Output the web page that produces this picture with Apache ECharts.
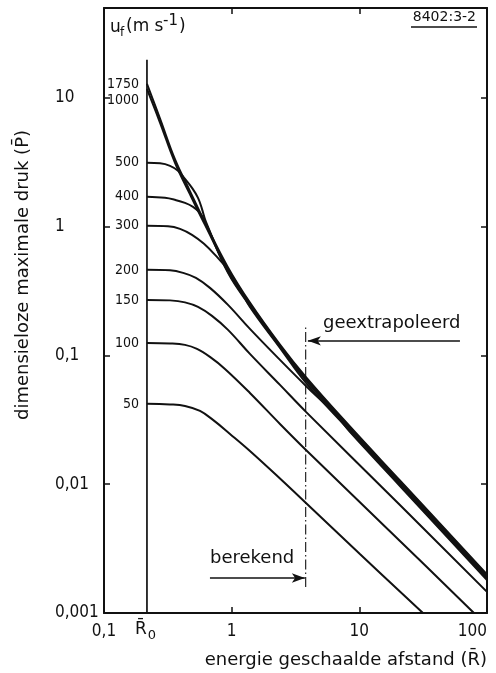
<!DOCTYPE html>
<html>
<head>
<meta charset="utf-8">
<script src="https://cdn.jsdelivr.net/npm/echarts@6/dist/echarts.min.js"></script>
<style>
  html, body { margin: 0; padding: 0; background: #fff; }
  #chart { width: 496px; height: 673px; }
</style>
</head>
<body>
<div id="chart"></div>
<script>
// Dimensionless peak overpressure versus energy-scaled distance,
// one curve per flame speed u_f (m/s).
const xTicks = [0.1, 1, 10, 100];
const yTicks = [0.001, 0.01, 0.1, 1, 10];
const R0 = 0.217;                 // scaled charge radius
const extrapolationStart = 3.8;   // computed up to here, extrapolated beyond

const speeds = ['1750', '1000', '500', '400', '300', '200', '150', '100', '50'];

const u1750R = [0.217, 0.275, 0.360, 0.472, 0.618, 0.936, 1.39, 2.39, 3.82, 8.44, 20.8, 100];
const u1750P = [12.9, 6.89, 3.33, 1.884, 1.080, 0.4835, 0.2576, 0.1215, 0.0679, 0.0281, 0.0107, 0.00199];

const u1000R = [0.217, 0.275, 0.360, 0.472, 0.618, 0.936, 1.39, 2.39, 3.82, 8.44, 20.8, 100];
const u1000P = [11.79, 6.42, 3.14, 1.785, 1.035, 0.4625, 0.2518, 0.1188, 0.0664, 0.0276, 0.01051, 0.00196];

const u500R = [0.217, 0.275, 0.329, 0.380, 0.431, 0.489, 0.545, 0.585, 0.629, 0.936, 1.39, 2.39, 3.82, 8.44, 20.8, 100];
const u500P = [3.14, 3.11, 2.973, 2.72, 2.356, 2.006, 1.677, 1.377, 1.092, 0.4464, 0.2472, 0.1177, 0.0652, 0.0271, 0.01033, 0.00192];

const u400R = [0.217, 0.300, 0.360, 0.431, 0.498, 0.554, 0.596, 0.641, 0.936, 1.39, 2.39, 3.82, 8.44, 20.8, 100];
const u400P = [1.707, 1.677, 1.618, 1.533, 1.428, 1.305, 1.173, 1.016, 0.4385, 0.2428, 0.1166, 0.0641, 0.0266, 0.01014, 0.00189];

const u300R = [0.217, 0.317, 0.394, 0.489, 0.607, 0.754, 0.936, 1.161, 1.39, 2.39, 3.82, 8.44, 20.8, 100];
const u300P = [1.016, 1.007, 0.963, 0.865, 0.737, 0.594, 0.4625, 0.3292, 0.2385, 0.1146, 0.0612, 0.0259, 0.00988, 0.00184];

const u200R = [0.217, 0.329, 0.416, 0.525, 0.676, 0.936, 1.39, 2.39, 3.82, 6.44, 8.44, 20.8, 100];
const u200P = [0.4625, 0.4584, 0.4385, 0.4009, 0.3352, 0.2472, 0.1609, 0.0924, 0.0580, 0.0352, 0.0255, 0.0097, 0.0018];

const u150R = [0.217, 0.329, 0.431, 0.545, 0.701, 0.936, 1.39, 2.39, 3.82, 20.8, 100];
const u150P = [0.2704, 0.2680, 0.2586, 0.2385, 0.2031, 0.1581, 0.1029, 0.0591, 0.0365, 0.0069, 0.00146];

const u100R = [0.217, 0.329, 0.431, 0.535, 0.676, 0.886, 1.39, 2.39, 3.82, 20.8, 79.0];
const u100P = [0.1253, 0.1242, 0.1209, 0.1125, 0.0975, 0.0787, 0.0512, 0.0294, 0.01847, 0.00363, 0.001];

const u50R = [0.217, 0.329, 0.431, 0.565, 0.714, 0.970, 1.39, 2.39, 3.82, 10.1, 31.5];
const u50P = [0.0421, 0.0417, 0.0406, 0.0371, 0.0316, 0.0246, 0.01814, 0.01109, 0.00716, 0.00287, 0.001];

const curves = [
  [u1750R, u1750P], [u1000R, u1000P], [u500R, u500P], [u400R, u400P],
  [u300R, u300P], [u200R, u200P], [u150R, u150P], [u100R, u100P], [u50R, u50P]
];

const FONT = '"DejaVu Sans", sans-serif';
const NARROW = '"DejaVu Sans Condensed", "DejaVu Sans", sans-serif';
const INK = '#111';

function decimalComma(v, list) {
  const hit = list.find(t => Math.abs(Math.log10(v) - Math.log10(t)) < 1e-6);
  return hit === undefined ? '' : String(hit).replace('.', ',');
}

const labelShift = { '1000': [0, 12], '1750': [0, 1] };

const curveSeries = curves.map(([rs, ps], k) => {
  const name = speeds[k];
  const data = rs.map((r, i) => {
    if (i === 0) {
      return {
        value: [r, ps[i]],
        label: {
          show: true, position: 'left', distance: 8,
          offset: labelShift[name] || [0, 0],
          formatter: name, fontSize: 14, fontFamily: NARROW, color: INK
        }
      };
    }
    return [r, ps[i]];
  });
  return {
    type: 'line', name, data,
    smooth: 0.4, symbol: 'circle', symbolSize: 0, showSymbol: true,
    lineStyle: { color: INK, width: 2 },
    itemStyle: { color: INK },
    label: { show: false },
    silent: true, animation: false, z: 3
  };
});

const annotationSeries = [
  {
    // vertical line at the charge radius
    type: 'line', data: [[R0, 0.001], [R0, 19.8]],
    symbol: 'none', lineStyle: { color: INK, width: 1.7 }, silent: true, animation: false
  },
  {
    // limit of the computed range
    type: 'line', data: [[extrapolationStart, 0.00159], [extrapolationStart, 0.173]],
    symbol: 'none', lineStyle: { color: INK, width: 1.1, type: [10, 3, 1.5, 3] },
    silent: true, animation: false,
    markLine: {
      silent: true, animation: false,
      symbol: ['none', 'arrow'], symbolSize: [7, 13],
      label: { show: false },
      lineStyle: { color: INK, width: 1.7, type: 'solid' },
      data: [
        [{ coord: [61.4, 0.130] }, { coord: [extrapolationStart * 1.04, 0.130] }],
        [{ coord: [0.676, 0.00187] }, { coord: [extrapolationStart * 0.985, 0.00187] }]
      ]
    }
  }
];

const axisLine = { show: true, lineStyle: { color: INK, width: 2 } };
const innerTick = { show: true, inside: true, length: 6, lineStyle: { color: INK, width: 1.5 } };

const option = {
  backgroundColor: '#fff',
  animation: false,
  grid: { left: 104, right: 9, top: 8, bottom: 60, containLabel: false },
  xAxis: [
    {
      type: 'log', logBase: 10, min: 0.1, max: 100, position: 'bottom',
      axisLine, splitLine: { show: false }, axisTick: innerTick,
      axisLabel: {
        show: true, margin: 10, fontSize: 17, fontFamily: NARROW, color: INK,
        alignMaxLabel: 'right',
        formatter: v => decimalComma(v, xTicks)
      }
    },
    {
      type: 'log', logBase: 10, min: 0.1, max: 100, position: 'top',
      axisLine, splitLine: { show: false }, axisTick: innerTick,
      axisLabel: { show: false }
    }
  ],
  yAxis: [
    {
      type: 'log', logBase: 10, min: 0.001, max: 50, position: 'left',
      axisLine, splitLine: { show: false }, axisTick: innerTick,
      axisLabel: {
        show: true, margin: 49, align: 'left', fontSize: 17, fontFamily: NARROW, color: INK,
        showMaxLabel: false,
        formatter: v => decimalComma(v, yTicks)
      }
    },
    {
      type: 'log', logBase: 10, min: 0.001, max: 50, position: 'right',
      axisLine, splitLine: { show: false }, axisTick: innerTick,
      axisLabel: { show: false }
    }
  ],
  series: curveSeries.concat(annotationSeries),
  graphic: [
    // axis titles
    {
      type: 'text', x: 23, y: 275, rotation: Math.PI / 2,
      style: { text: 'dimensieloze maximale druk (P\u0304)', font: '18px ' + FONT, fill: INK, textAlign: 'center', textVerticalAlign: 'middle' }
    },
    {
      type: 'text', x: 487, y: 660,
      style: { text: 'energie geschaalde afstand (R\u0304)', font: '18px ' + FONT, fill: INK, textAlign: 'right', textVerticalAlign: 'middle' }
    },
    // R0 tick label
    { type: 'text', x: 141, y: 630, style: { text: 'R\u0304', font: '17px ' + FONT, fill: INK, textAlign: 'center', textVerticalAlign: 'middle' } },
    { type: 'text', x: 152, y: 636, style: { text: '0', font: '13px ' + FONT, fill: INK, textAlign: 'center', textVerticalAlign: 'middle' } },
    // curve parameter heading
    { type: 'text', x: 110, y: 28, style: { text: 'u', font: '17px ' + FONT, fill: INK, textVerticalAlign: 'middle' } },
    { type: 'text', x: 120, y: 33, style: { text: 'f', font: '12px ' + FONT, fill: INK, textVerticalAlign: 'middle' } },
    { type: 'text', x: 126, y: 27, style: { text: '(m s', font: '17px ' + FONT, fill: INK, textVerticalAlign: 'middle' } },
    { type: 'text', x: 163, y: 21, style: { text: '-1', font: '15px ' + FONT, fill: INK, textVerticalAlign: 'middle' } },
    { type: 'text', x: 179, y: 27, style: { text: ')', font: '17px ' + FONT, fill: INK, textVerticalAlign: 'middle' } },
    // drawing number
    { type: 'text', x: 476, y: 17, style: { text: '8402:3-2', font: '14px ' + FONT, fill: INK, textAlign: 'right', textVerticalAlign: 'middle' } },
    { type: 'line', shape: { x1: 411, y1: 27, x2: 477, y2: 27 }, style: { stroke: INK, lineWidth: 1.4 } },
    // range annotations
    { type: 'text', x: 323, y: 323, style: { text: 'geextrapoleerd', font: '18px ' + FONT, fill: INK, textVerticalAlign: 'middle' } },
    { type: 'text', x: 210, y: 558, style: { text: 'berekend', font: '18px ' + FONT, fill: INK, textVerticalAlign: 'middle' } }
  ]
};

const chart = echarts.init(document.getElementById('chart'), null, { renderer: 'canvas' });
chart.setOption(option);
</script>
</body>
</html>
